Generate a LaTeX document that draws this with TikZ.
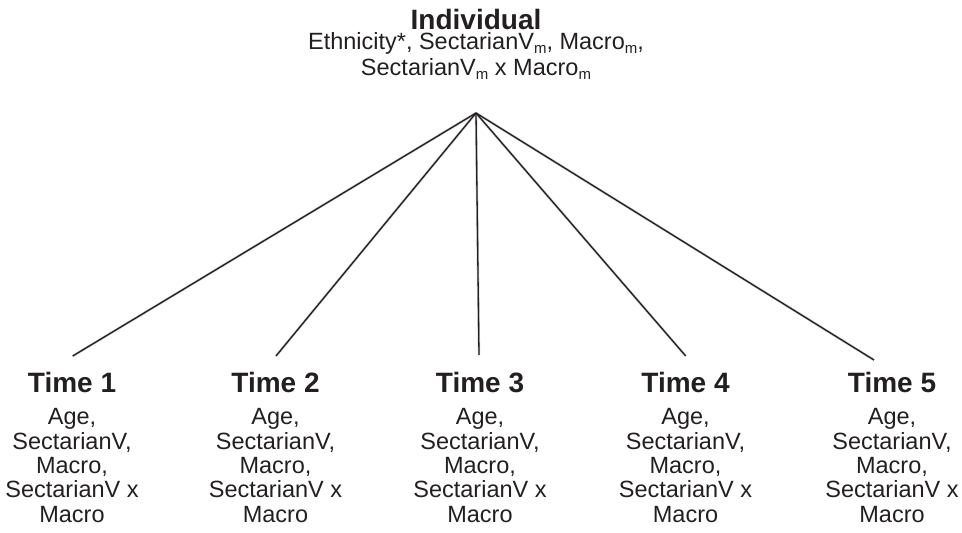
\documentclass[tikz,border=0pt]{standalone}
\usepackage{fontspec}
\setmainfont{Liberation Sans}
\definecolor{ink}{HTML}{231F20}
\newcommand{\subm}{\raisebox{-4pt}{\fontsize{15}{15}\selectfont m}}
\tikzset{
  head/.style={font=\fontsize{28}{30}\selectfont\bfseries, text=ink, inner sep=0pt, anchor=base},
  body/.style={font=\fontsize{23.5}{24.3}\selectfont, text=ink, inner sep=0pt, anchor=north, align=center},
  topbody/.style={body, font=\fontsize{23.5}{25.5}\selectfont},
  link/.style={draw=ink, line width=1.3pt},
  shade/.style={draw=black!22, line width=2.4pt, xshift=1.3pt, yshift=-1.6pt},
}
\begin{document}
\begin{tikzpicture}[x=1pt,y=-1pt]
\useasboundingbox (0,0) rectangle (962,533);
\node[head] (ind) at (476,29.5) {Individual};
\node[topbody] (indb) at (476,32.5) {Ethnicity*, SectarianV\subm, Macro\subm,\\SectarianV\subm{} x Macro\subm};
\coordinate (apex) at (476,113);
\foreach \i/\x/\ex/\ey in {1/72/72.7/356, 2/275.5/276/356, 3/480/479/355, 4/685.5/685.7/356, 5/892/874/360}{
  \node[head] (t\i) at (\x,392) {Time \i};
  \node[body] (b\i) at (\x,408.5) {Age,\\SectarianV,\\Macro,\\SectarianV x\\Macro};
  \coordinate (e\i) at (\ex,\ey);
}
\foreach \i in {1,...,5}{
  \draw[shade] (apex) -- (e\i);
}
\foreach \i in {1,...,5}{
  \draw[link] (apex) -- (e\i);
}
\end{tikzpicture}
\end{document}
